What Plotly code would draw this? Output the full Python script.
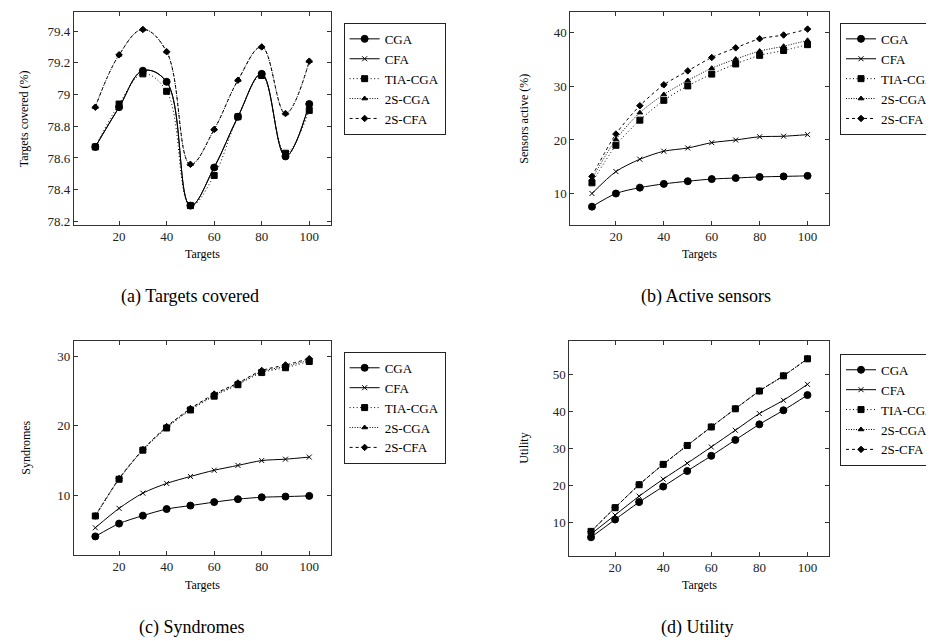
import plotly.graph_objects as go

targets = [10, 20, 30, 40, 50, 60, 70, 80, 90, 100]
series_names = ["CGA", "CFA", "TIA-CGA", "2S-CGA", "2S-CFA"]

# (a) Targets covered (%)
cov_cga = [78.67, 78.92, 79.15, 79.08, 78.30, 78.54, 78.86, 79.13, 78.61, 78.94]
cov_cfa = [78.67, 78.92, 79.15, 79.08, 78.30, 78.54, 78.86, 79.13, 78.61, 78.94]
cov_tia = [78.67, 78.94, 79.13, 79.02, 78.30, 78.49, 78.86, 79.12, 78.63, 78.90]
cov_2scga = [78.92, 79.25, 79.41, 79.27, 78.56, 78.78, 79.09, 79.30, 78.88, 79.21]
cov_2scfa = [78.92, 79.25, 79.41, 79.27, 78.56, 78.78, 79.09, 79.30, 78.88, 79.21]

# (b) Sensors active (%)
act_cga = [7.55, 10.0, 11.1, 11.8, 12.3, 12.7, 12.9, 13.1, 13.2, 13.3]
act_cfa = [10.0, 14.1, 16.4, 17.9, 18.5, 19.5, 20.0, 20.6, 20.7, 21.0]
act_tia = [12.0, 19.0, 23.7, 27.4, 30.1, 32.3, 34.2, 35.8, 36.7, 37.8]
act_2scga = [12.7, 20.1, 25.1, 28.5, 31.1, 33.4, 35.1, 36.6, 37.5, 38.6]
act_2scfa = [13.2, 21.1, 26.4, 30.3, 32.9, 35.4, 37.2, 38.9, 39.6, 40.7]

# (c) Syndromes
syn_cga = [4.05, 5.9, 7.05, 8.0, 8.5, 9.0, 9.43, 9.7, 9.8, 9.9]
syn_cfa = [5.3, 8.1, 10.3, 11.7, 12.7, 13.6, 14.3, 15.0, 15.2, 15.5]
syn_tia = [7.0, 12.3, 16.5, 19.7, 22.3, 24.3, 25.95, 27.7, 28.4, 29.3]
syn_2scga = [7.0, 12.35, 16.55, 19.8, 22.4, 24.45, 26.1, 27.85, 28.6, 29.5]
syn_2scfa = [7.0, 12.4, 16.6, 19.9, 22.5, 24.6, 26.2, 28.0, 28.8, 29.7]

# (d) Utility
utl_cga = [6.0, 10.8, 15.5, 19.7, 23.9, 28.0, 32.3, 36.5, 40.3, 44.4]
utl_cfa = [6.9, 12.0, 17.1, 21.7, 26.0, 30.4, 34.9, 39.4, 43.0, 47.3]
utl_tia = [7.6, 14.0, 20.2, 25.7, 30.8, 35.8, 40.7, 45.5, 49.6, 54.2]
utl_2scga = [7.6, 14.0, 20.2, 25.7, 30.8, 35.8, 40.7, 45.5, 49.6, 54.2]
utl_2scfa = [7.6, 14.0, 20.2, 25.7, 30.8, 35.8, 40.7, 45.5, 49.6, 54.2]

x_ticks = [20, 40, 60, 80, 100]
a_ticks = [78.2, 78.4, 78.6, 78.8, 79.0, 79.2, 79.4]
a_ticktext = ["78.2", "78.4", "78.6", "78.8", "79", "79.2", "79.4"]
b_ticks = [10, 20, 30, 40]
c_ticks = [10, 20, 30]
d_ticks = [10, 20, 30, 40, 50]

y_titles = ["Targets covered (%)", "Sensors active (%)", "Syndromes", "Utility"]
captions = ["(a) Targets covered", "(b) Active sensors", "(c) Syndromes", "(d) Utility"]
x_title = "Targets"

FONT = "Liberation Serif, Times New Roman, serif"
W, H = 934, 641

styles = [
    dict(symbol="circle", size=7, dash="solid"),
    dict(symbol="x-thin", size=5, dash="solid"),
    dict(symbol="square", size=6, dash="1px,2.5px"),
    dict(symbol="triangle-up", size=5, dash="1px,1.5px"),
    dict(symbol="diamond", size=5, dash="3px,3px"),
]

panels = [
    dict(data=[cov_cga, cov_cfa, cov_tia, cov_2scga, cov_2scfa], px=(66, 323), py=(4, 218), sm=1.1,
         yr=[78.18, 79.52], yt=a_ticks, ytt=a_ticktext, leg=(336, 15), ytx=16, xty=248, capx=182, capy=290),
    dict(data=[act_cga, act_cfa, act_tia, act_2scga, act_2scfa], px=(563, 822), py=(4, 218), sm=0.8,
         yr=[4.19, 43.9], yt=b_ticks, ytt=[str(v) for v in b_ticks], leg=(833, 15), ytx=517, xty=248, capx=699, capy=290),
    dict(data=[syn_cga, syn_cfa, syn_tia, syn_2scga, syn_2scfa], px=(66, 323), py=(335, 550), sm=0.8,
         yr=[1.43, 32.27], yt=c_ticks, ytt=[str(v) for v in c_ticks], leg=(336, 346), ytx=18, xty=581, capx=184, capy=623),
    dict(data=[utl_cga, utl_cfa, utl_tia, utl_2scga, utl_2scfa], px=(562, 822), py=(335, 551), sm=0.8,
         yr=[1.07, 59.03], yt=d_ticks, ytt=[str(v) for v in d_ticks], leg=(833, 348), ytx=517, xty=581, capx=690, capy=623),
]

fig = go.Figure()
layout = dict(
    width=W, height=H, margin=dict(l=0, r=0, t=0, b=0),
    paper_bgcolor="white", plot_bgcolor="white",
    font=dict(family=FONT, color="black", size=13),
    annotations=[],
)

for i, p in enumerate(panels):
    k = "" if i == 0 else str(i + 1)
    xa, ya = "x" + k, "y" + k
    legname = "legend" + k
    for j, (name, ys) in enumerate(zip(series_names, p["data"])):
        st = styles[j]
        fig.add_trace(go.Scatter(
            x=targets, y=ys, name=name, xaxis=xa, yaxis=ya, legend=legname,
            mode="lines+markers",
            line=dict(color="black", width=1, dash=st["dash"], shape="spline", smoothing=p["sm"]),
            marker=dict(symbol=st["symbol"], size=st["size"], color="black",
                        line=dict(color="black", width=1)),
        ))
    axcommon = dict(showgrid=False, zeroline=False, showline=True, linecolor="#333", linewidth=1,
                    mirror="allticks", ticks="inside", ticklen=4, tickcolor="#333", tickwidth=1,
                    tickfont=dict(family=FONT, size=13, color="#222"))
    layout["xaxis" + k] = dict(domain=[p["px"][0] / W, p["px"][1] / W], range=[1, 109],
                               anchor=ya, tickvals=x_ticks, **axcommon)
    layout["yaxis" + k] = dict(domain=[1 - p["py"][1] / H, 1 - p["py"][0] / H], range=p["yr"],
                               anchor=xa, tickvals=p["yt"], ticktext=p["ytt"], **axcommon)
    layout[legname] = dict(x=p["leg"][0] / W, y=1 - p["leg"][1] / H, xanchor="left", yanchor="top",
                           bordercolor="#222", borderwidth=1, bgcolor="white",
                           font=dict(family=FONT, size=13, color="black"),
                           tracegroupgap=0, itemwidth=30)
    cx = (p["px"][0] + p["px"][1]) / 2
    layout["annotations"].append(dict(text=x_title, x=cx / W, y=1 - p["xty"] / H, xref="paper", yref="paper",
                                      showarrow=False, font=dict(family=FONT, size=12), xanchor="center", yanchor="middle"))
    layout["annotations"].append(dict(text=y_titles[i], x=p["ytx"] / W, y=1 - ((p["py"][0] + p["py"][1]) / 2) / H,
                                      xref="paper", yref="paper", showarrow=False, textangle=-90,
                                      font=dict(family=FONT, size=12), xanchor="center", yanchor="middle"))
    layout["annotations"].append(dict(text=captions[i], x=p["capx"] / W, y=1 - p["capy"] / H, xref="paper", yref="paper",
                                      showarrow=False, font=dict(family=FONT, size=18), xanchor="center", yanchor="middle"))

fig.update_layout(**layout)
fig.write_html("out.html")
